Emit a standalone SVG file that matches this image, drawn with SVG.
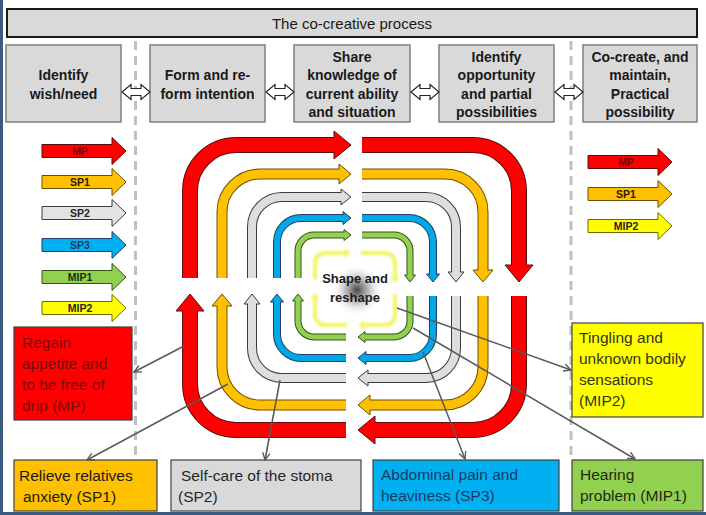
<svg xmlns="http://www.w3.org/2000/svg" xmlns:xlink="http://www.w3.org/1999/xlink" width="706" height="515" viewBox="0 0 706 515">
<style>
text{font-family:"Liberation Sans",Arial,sans-serif}
.hdr{fill:#d9d9d9;stroke:#1a1a1a;stroke-width:2}
.step{fill:#d9d9d9;stroke:#7f7f7f;stroke-width:1.5}
.st{font-size:14px;font-weight:bold;fill:#1a1a1a;text-anchor:middle}
.dbl{fill:#ffffff;stroke:#262626;stroke-width:1.2}
.dash{stroke:#c0c0c0;stroke-width:3;stroke-dasharray:9 6;fill:none}
.la{stroke-width:1}
.lt{font-size:10.5px;font-weight:bold;text-anchor:middle}
.ol{fill:none}
.fl{fill:none}
.r .ol{stroke:#5c0d0d;stroke-width:16}
.r .fl{stroke:#ff0000;stroke-width:14}
.r .hd{fill:#ff0000;stroke:#5c0d0d;stroke-width:1}
.o .ol{stroke:#6b5000;stroke-width:11}
.o .fl{stroke:#ffc000;stroke-width:9}
.o .hd{fill:#ffc000;stroke:#6b5000;stroke-width:1}
.g .ol{stroke:#3a3a3a;stroke-width:10}
.g .fl{stroke:#dedede;stroke-width:8}
.g .hd{fill:#dedede;stroke:#3a3a3a;stroke-width:1}
.b .ol{stroke:#1f3f66;stroke-width:8}
.b .fl{stroke:#00a8e8;stroke-width:6}
.b .hd{fill:#00a8e8;stroke:#1f3f66;stroke-width:1}
.gr .ol{stroke:#355219;stroke-width:7}
.gr .fl{stroke:#92d050;stroke-width:5}
.gr .hd{fill:#92d050;stroke:#355219;stroke-width:1}
.y .fl{stroke:#f2f25a;stroke-width:4.5}
.y .hd{fill:#f2f25a}
.box{stroke:#404040;stroke-width:1.2}
.bt{font-size:15.5px}
.conn{stroke:#595959;stroke-width:1.5;fill:none;marker-end:url(#ah)}
</style>
<defs>
<marker id="ah" viewBox="0 0 10 10" refX="9" refY="5" markerWidth="9" markerHeight="9" orient="auto" markerUnits="userSpaceOnUse">
<path d="M1,1 L9,5 L1,9" fill="none" stroke="#595959" stroke-width="1.5"/>
</marker>
<polygon id="dblArrow" points="0,0 9,-7.5 9,-3.5 19,-3.5 19,-7.5 28,0 19,7.5 19,3.5 9,3.5 9,7.5"/>
<polygon id="legArrow" points="0,-6.5 70,-6.5 70,-13.5 84,0 70,13.5 70,6.5 0,6.5"/>
<radialGradient id="shade" cx="0.5" cy="0.5" r="0.5">
<stop offset="0" stop-color="#2e2e2e" stop-opacity="0.9"/>
<stop offset="0.45" stop-color="#6a6a6a" stop-opacity="0.45"/>
<stop offset="1" stop-color="#ffffff" stop-opacity="0"/>
</radialGradient>
<filter id="soft" x="-20%" y="-20%" width="140%" height="140%"><feGaussianBlur stdDeviation="0.8"/></filter>
<!-- red -->
<path id="rTL" d="M190,278 V191 A46,46 0 0 1 236,145 H336"/>
<path id="rTR" d="M362,145 H473 A46,46 0 0 1 519,191 V267"/>
<path id="rBR" d="M519,296 V384 A46,46 0 0 1 473,430 H373"/>
<path id="rBL" d="M346,430 H236 A46,46 0 0 1 190,384 V309"/>
<!-- orange -->
<path id="oTL" d="M222,278 V212 A38,38 0 0 1 260,174 H341"/>
<path id="oTR" d="M362,174 H445 A38,38 0 0 1 483,212 V272"/>
<path id="oBR" d="M483,296 V367 A38,38 0 0 1 445,405 H368"/>
<path id="oBL" d="M346,405 H260 A38,38 0 0 1 222,367 V304"/>
<!-- grey -->
<path id="gTL" d="M252,278 V227 A30,30 0 0 1 282,197 H343"/>
<path id="gTR" d="M362,197 H426 A30,30 0 0 1 456,227 V274"/>
<path id="gBR" d="M456,296 V348 A30,30 0 0 1 426,378 H366"/>
<path id="gBL" d="M346,378 H282 A30,30 0 0 1 252,348 V302"/>
<!-- blue -->
<path id="bTL" d="M277,278 V242 A24,24 0 0 1 301,218 H345"/>
<path id="bTR" d="M362,218 H409 A24,24 0 0 1 433,242 V276"/>
<path id="bBR" d="M433,296 V334 A24,24 0 0 1 409,358 H364"/>
<path id="bBL" d="M346,358 H301 A24,24 0 0 1 277,334 V300"/>
<!-- green -->
<path id="grTL" d="M298,278 V251 A16,16 0 0 1 314,235 H346"/>
<path id="grTR" d="M362,235 H394 A16,16 0 0 1 410,251 V277"/>
<path id="grBR" d="M410,296 V321 A16,16 0 0 1 394,337 H363"/>
<path id="grBL" d="M346,337 H314 A16,16 0 0 1 298,321 V299"/>
</defs>

<rect width="706" height="515" fill="#ffffff"/>
<rect x="0" y="0" width="3" height="515" fill="#3a5a80"/>
<rect x="0" y="512" width="706" height="3" fill="#3a5a80"/>

<!-- dashed separators -->
<g id="separators">
<line class="dash" x1="135.5" y1="41" x2="135.5" y2="458"/>
<line class="dash" x1="571" y1="41" x2="571" y2="458"/>
</g>

<!-- header -->
<g id="title">
<rect class="hdr" x="7" y="9" width="690" height="28"/>
<text x="352" y="29" font-size="15" text-anchor="middle" fill="#1a1a1a">The co-creative process</text>
</g>

<g id="step1">
<rect class="step" x="6" y="45" width="115" height="77"/>
<text class="st" x="63.5" y="80">Identify</text>
<text class="st" x="63.5" y="99">wish/need</text>
</g>
<g id="step2">
<rect class="step" x="150" y="45" width="115" height="77"/>
<text class="st" x="207.5" y="80">Form and re-</text>
<text class="st" x="207.5" y="99">form intention</text>
</g>
<g id="step3">
<rect class="step" x="294" y="45" width="116" height="77"/>
<text class="st" x="352" y="62">Share</text>
<text class="st" x="352" y="80">knowledge of</text>
<text class="st" x="352" y="99">current ability</text>
<text class="st" x="352" y="117">and situation</text>
</g>
<g id="step4">
<rect class="step" x="439" y="45" width="115" height="77"/>
<text class="st" x="496.5" y="62">Identify</text>
<text class="st" x="496.5" y="80">opportunity</text>
<text class="st" x="496.5" y="99">and partial</text>
<text class="st" x="496.5" y="117">possibilities</text>
</g>
<g id="step5">
<rect class="step" x="583" y="45" width="114" height="77"/>
<text class="st" x="640" y="62">Co-create, and</text>
<text class="st" x="640" y="80">maintain,</text>
<text class="st" x="640" y="99">Practical</text>
<text class="st" x="640" y="117">possibility</text>
</g>

<g id="step-links">
<use xlink:href="#dblArrow" href="#dblArrow" class="dbl" x="122" y="92"/>
<use xlink:href="#dblArrow" href="#dblArrow" class="dbl" x="266" y="92"/>
<use xlink:href="#dblArrow" href="#dblArrow" class="dbl" x="411" y="92"/>
<use xlink:href="#dblArrow" href="#dblArrow" class="dbl" x="555" y="92"/>
</g>

<!-- legends -->
<g id="legend-left">
<g id="leg-MP"><use href="#legArrow" class="la" x="42" y="151" fill="#ff0000" stroke="#5c0d0d"/><text class="lt" x="80" y="155" fill="#7a0000">MP</text></g>
<g id="leg-SP1"><use href="#legArrow" class="la" x="42" y="182" fill="#ffc000" stroke="#6b5000"/><text class="lt" x="80" y="186" fill="#2a2000">SP1</text></g>
<g id="leg-SP2"><use href="#legArrow" class="la" x="42" y="213" fill="#e3e3e3" stroke="#3a3a3a"/><text class="lt" x="80" y="217" fill="#262626">SP2</text></g>
<g id="leg-SP3"><use href="#legArrow" class="la" x="42" y="245" fill="#00b0f0" stroke="#1f3f66"/><text class="lt" x="80" y="249" fill="#1f3864">SP3</text></g>
<g id="leg-MIP1"><use href="#legArrow" class="la" x="42" y="277" fill="#92d050" stroke="#355219"/><text class="lt" x="80" y="281" fill="#1e2e12">MIP1</text></g>
<g id="leg-MIP2"><use href="#legArrow" class="la" x="42" y="308" fill="#ffff00" stroke="#6b6b00"/><text class="lt" x="80" y="312" fill="#262626">MIP2</text></g>
</g>
<g id="legend-right">
<g id="legr-MP"><use href="#legArrow" class="la" x="588" y="162" fill="#ff0000" stroke="#5c0d0d"/><text class="lt" x="626" y="166" fill="#7a0000">MP</text></g>
<g id="legr-SP1"><use href="#legArrow" class="la" x="588" y="194" fill="#ffc000" stroke="#6b5000"/><text class="lt" x="626" y="198" fill="#2a2000">SP1</text></g>
<g id="legr-MIP2"><use href="#legArrow" class="la" x="588" y="226" fill="#ffff00" stroke="#6b6b00"/><text class="lt" x="626" y="230" fill="#262626">MIP2</text></g>
</g>

<!-- cycle arrows -->
<g id="cycle">
<g id="cycle-red" class="r">
<use href="#rTL" class="ol"/><polygon class="hd" points="334,131 351,145 334,159"/><use href="#rTL" class="fl"/>
<use href="#rTR" class="ol"/><polygon class="hd" points="505,265 519,282 533,265"/><use href="#rTR" class="fl"/>
<use href="#rBR" class="ol"/><polygon class="hd" points="375,416 358,430 375,444"/><use href="#rBR" class="fl"/>
<use href="#rBL" class="ol"/><polygon class="hd" points="176,311 190,294 204,311"/><use href="#rBL" class="fl"/>
</g>
<g id="cycle-orange" class="o">
<use href="#oTL" class="ol"/><polygon class="hd" points="339,164 351,174 339,184"/><use href="#oTL" class="fl"/>
<use href="#oTR" class="ol"/><polygon class="hd" points="473,270 483,282 493,270"/><use href="#oTR" class="fl"/>
<use href="#oBR" class="ol"/><polygon class="hd" points="370,395 358,405 370,415"/><use href="#oBR" class="fl"/>
<use href="#oBL" class="ol"/><polygon class="hd" points="212,306 222,294 232,306"/><use href="#oBL" class="fl"/>
</g>
<g id="cycle-grey" class="g">
<use href="#gTL" class="ol"/><polygon class="hd" points="341,189 351,197 341,205"/><use href="#gTL" class="fl"/>
<use href="#gTR" class="ol"/><polygon class="hd" points="448,272 456,282 464,272"/><use href="#gTR" class="fl"/>
<use href="#gBR" class="ol"/><polygon class="hd" points="368,370 358,378 368,386"/><use href="#gBR" class="fl"/>
<use href="#gBL" class="ol"/><polygon class="hd" points="244,304 252,294 260,304"/><use href="#gBL" class="fl"/>
</g>
<g id="cycle-blue" class="b">
<use href="#bTL" class="ol"/><polygon class="hd" points="343,211.5 351,218 343,224.5"/><use href="#bTL" class="fl"/>
<use href="#bTR" class="ol"/><polygon class="hd" points="426.5,274 433,282 439.5,274"/><use href="#bTR" class="fl"/>
<use href="#bBR" class="ol"/><polygon class="hd" points="366,351.5 358,358 366,364.5"/><use href="#bBR" class="fl"/>
<use href="#bBL" class="ol"/><polygon class="hd" points="270.5,302 277,294 283.5,302"/><use href="#bBL" class="fl"/>
</g>
<g id="cycle-green" class="gr">
<use href="#grTL" class="ol"/><polygon class="hd" points="344,229.5 351,235 344,240.5"/><use href="#grTL" class="fl"/>
<use href="#grTR" class="ol"/><polygon class="hd" points="404.5,275 410,282 415.5,275"/><use href="#grTR" class="fl"/>
<use href="#grBR" class="ol"/><polygon class="hd" points="365,331.5 358,337 365,342.5"/><use href="#grBR" class="fl"/>
<use href="#grBL" class="ol"/><polygon class="hd" points="292.5,301 298,294 303.5,301"/><use href="#grBL" class="fl"/>
</g>
<g id="cycle-yellow" class="y" filter="url(#soft)" opacity="0.85">
<path class="fl" d="M315,279 V263 A10,10 0 0 1 325,253 H346"/><polygon class="hd" points="345,248 351,253 345,258"/>
<path class="fl" d="M361,253 H385 A10,10 0 0 1 395,263 V278"/><polygon class="hd" points="390,277 395,283 400,277"/>
<path class="fl" d="M395,294 V315 A10,10 0 0 1 385,325 H363"/><polygon class="hd" points="364,320 358,325 364,330"/>
<path class="fl" d="M347,325 H325 A10,10 0 0 1 315,315 V298"/><polygon class="hd" points="310,299 315,293 320,299"/>
</g>
</g>

<g id="center">
<circle cx="357" cy="290" r="26" fill="url(#shade)"/>
<text x="355" y="283" font-size="13" font-weight="bold" text-anchor="middle" fill="#1a1a1a">Shape and</text>
<text x="355" y="302" font-size="13" font-weight="bold" text-anchor="middle" fill="#1a1a1a">reshape</text>
</g>

<!-- outcome boxes -->
<g id="box-MP">
<rect class="box" x="14" y="327" width="118" height="93" fill="#ff0000"/>
<text class="bt" x="22" y="348" fill="#7a0a0a">Regain</text>
<text class="bt" x="22" y="369" fill="#7a0a0a">appetite and</text>
<text class="bt" x="22" y="390" fill="#7a0a0a">to be free of</text>
<text class="bt" x="22" y="411" fill="#7a0a0a">drip (MP)</text>
</g>
<g id="box-MIP2">
<rect class="box" x="572" y="323" width="131" height="94" fill="#ffff00"/>
<text class="bt" x="579" y="343" fill="#333322">Tingling and</text>
<text class="bt" x="579" y="364" fill="#333322">unknown bodily</text>
<text class="bt" x="579" y="385" fill="#333322">sensations</text>
<text class="bt" x="579" y="406" fill="#333322">(MIP2)</text>
</g>
<g id="box-SP1">
<rect class="box" x="14" y="460" width="143" height="51" fill="#ffc000"/>
<text class="bt" x="19" y="481" fill="#1a1a1a">Relieve relatives</text>
<text class="bt" x="23" y="502" fill="#1a1a1a">anxiety (SP1)</text>
</g>
<g id="box-SP2">
<rect class="box" x="171" y="460" width="190" height="51" fill="#d9d9d9"/>
<text class="bt" x="181" y="481" fill="#262626">Self-care of the stoma</text>
<text class="bt" x="178" y="502" fill="#262626">(SP2)</text>
</g>
<g id="box-SP3">
<rect class="box" x="373" y="460" width="186" height="51" fill="#00b0f0"/>
<text class="bt" x="381" y="480" fill="#1f3864">Abdominal pain and</text>
<text class="bt" x="381" y="501" fill="#1f3864">heaviness (SP3)</text>
</g>
<g id="box-MIP1">
<rect class="box" x="572" y="460" width="131" height="51" fill="#92d050"/>
<text class="bt" x="580" y="480" fill="#1e2a14">Hearing</text>
<text class="bt" x="580" y="501" fill="#1e2a14">problem (MIP1)</text>
</g>

<!-- connectors -->
<g id="connectors">
<line class="conn" x1="184" y1="346" x2="134" y2="372"/>
<line class="conn" x1="228" y1="384" x2="87" y2="460"/>
<line class="conn" x1="280" y1="380" x2="265" y2="460"/>
<line class="conn" x1="423" y1="352" x2="465" y2="459"/>
<line class="conn" x1="413" y1="328" x2="635" y2="459"/>
<line class="conn" x1="397" y1="308" x2="571" y2="370"/>
</g>
</svg>
